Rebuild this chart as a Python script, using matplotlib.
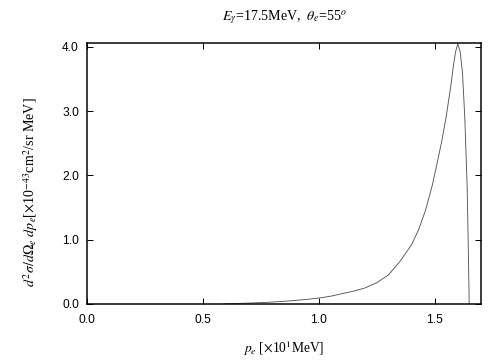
import matplotlib
matplotlib.use("Agg")
from matplotlib import pyplot as plt

plt.rcParams['mathtext.fontset'] = 'stix'
plt.rcParams['font.family'] = ['Liberation Sans', 'DejaVu Sans']

# p_e [x10 MeV], cross section [x10^-43 cm^2/sr MeV]
p_e = [0.59, 0.65, 0.70, 0.75, 0.80, 0.85, 0.90, 0.95, 1.00, 1.05, 1.10,
       1.15, 1.20, 1.25, 1.30, 1.35, 1.40, 1.43, 1.46, 1.49, 1.51, 1.53,
       1.55, 1.57, 1.58, 1.59, 1.60, 1.61, 1.62, 1.63, 1.64, 1.645, 1.649]
xsec = [0.0, 0.008, 0.014, 0.021, 0.030, 0.042, 0.056, 0.072, 0.092, 0.12, 0.16,
        0.20, 0.25, 0.33, 0.45, 0.66, 0.92, 1.15, 1.45, 1.85, 2.18, 2.52,
        2.92, 3.40, 3.68, 3.92, 4.05, 3.92, 3.60, 2.90, 1.85, 0.90, 0.0]

fig = plt.figure(figsize=(7, 5), dpi=72)
ax = fig.add_axes([0.1726, 0.1556, 0.7818, 0.725])
ax.plot(p_e, xsec, color='#555555', lw=0.9)

ax.set_xlim(0, 1.7)
ax.set_ylim(0, 4.06)
ax.set_xticks([0.0, 0.5, 1.0, 1.5])
ax.set_yticks([0.0, 1.0, 2.0, 3.0, 4.0])
ax.set_xticklabels(['0.0', '0.5', '1.0', '1.5'])
ax.set_yticklabels(['0.0', '1.0', '2.0', '3.0', '4.0'])
ax.tick_params(direction='in', top=True, right=True, length=6, width=1,
               labelsize=12, pad=8)
ax.tick_params(axis='x', pad=10)
for s in ax.spines.values():
    s.set_linewidth(1.5)

fig.text(0.565, 0.952, r'$E_{\gamma}$=17.5MeV,  $\theta_e$=55$^o$',
         ha='center', va='center', fontsize=14, family='Liberation Serif')
fig.text(0.06, 0.465,
         r'$d^2\sigma/d\Omega_e\ dp_e$[$\times$10$^{-43}$cm$^2$/sr MeV]',
         rotation=90, ha='center', va='center', fontsize=14,
         family='Liberation Serif')
fig.text(0.562, 0.006, r'$p_e$ [$\times$10$^1$MeV]', ha='center',
         va='bottom', fontsize=13.5, family='Liberation Serif')

fig.savefig('out.png', dpi=72)
